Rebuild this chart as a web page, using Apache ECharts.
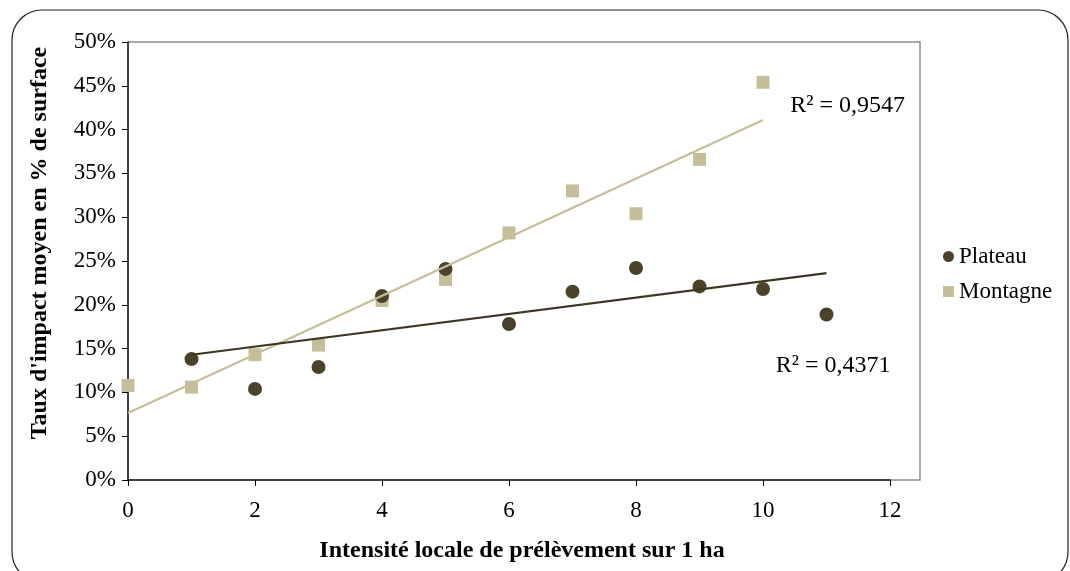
<!DOCTYPE html>
<html>
<head>
<meta charset="utf-8">
<style>
  html, body { margin: 0; padding: 0; background: #fff; }
  #chart { width: 1070px; height: 571px; }
</style>
<script src="https://cdn.jsdelivr.net/npm/echarts@6/dist/echarts.min.js"></script>
</head>
<body>
<div id="chart"></div>
<script>
// Intensité locale de prélèvement (arbres / ha) et taux d'impact moyen (% de surface)
const plateauX = [1, 2, 3, 4, 5, 6, 7, 8, 9, 10, 11];
const plateauY = [13.8, 10.4, 12.9, 21.0, 24.1, 17.8, 21.5, 24.2, 22.1, 21.8, 18.9];
const montagneX = [0, 1, 2, 3, 4, 5, 6, 7, 8, 9, 10];
const montagneY = [10.8, 10.6, 14.3, 15.4, 20.5, 22.9, 28.2, 33.0, 30.4, 36.6, 45.4];
const xTicks = [0, 2, 4, 6, 8, 10, 12];
const yTicks = [0, 5, 10, 15, 20, 25, 30, 35, 40, 45, 50];
const r2Plateau = '0,4371';
const r2Montagne = '0,9547';

const FONT = '"Liberation Serif", "Times New Roman", serif';
const DARK = '#4b4329';
const LIGHT = '#c6be98';

// least-squares line over the extent of a series
function trend(xs, ys) {
  const n = xs.length;
  const mx = xs.reduce((a, b) => a + b, 0) / n;
  const my = ys.reduce((a, b) => a + b, 0) / n;
  let sxy = 0, sxx = 0;
  for (let i = 0; i < n; i++) {
    sxy += (xs[i] - mx) * (ys[i] - my);
    sxx += (xs[i] - mx) * (xs[i] - mx);
  }
  const b = sxy / sxx, a = my - b * mx;
  const x0 = Math.min(...xs), x1 = Math.max(...xs);
  return [[x0, a + b * x0], [x1, a + b * x1]];
}
const pairs = (xs, ys) => xs.map((x, i) => [x, ys[i]]);

const chart = echarts.init(document.getElementById('chart'), null, { renderer: 'canvas' });

chart.setOption({
  backgroundColor: '#fff',
  animation: false,
  grid: { left: 128, right: 180, top: 42, bottom: 91, containLabel: false },
  xAxis: {
    type: 'value', min: xTicks[0], max: xTicks[xTicks.length - 1], interval: 2,
    axisLine: { show: true, onZero: false, lineStyle: { color: '#000', width: 1.5 } },
    axisTick: { show: true, inside: false, length: 6, lineStyle: { color: '#000' } },
    axisLabel: { margin: 19, fontFamily: FONT, fontSize: 23, color: '#000' },
    splitLine: { show: false }
  },
  yAxis: {
    type: 'value', min: yTicks[0], max: yTicks[yTicks.length - 1], interval: 5,
    axisLine: { show: true, onZero: false, lineStyle: { color: '#000', width: 1.5 } },
    axisTick: { show: true, inside: false, length: 6, lineStyle: { color: '#000' } },
    axisLabel: { margin: 12, fontFamily: FONT, fontSize: 23, color: '#000', formatter: '{value}%' },
    splitLine: { show: false }
  },
  legend: {
    data: [
      { name: 'Plateau', icon: 'circle' },
      { name: 'Montagne', icon: 'rect' }
    ],
    orient: 'vertical', left: 938, top: 240,
    itemWidth: 11, itemHeight: 11, itemGap: 12,
    textStyle: { fontFamily: FONT, fontSize: 23, color: '#000' }
  },
  graphic: [
    { type: 'rect', silent: true, z: -1,
      shape: { x: 12, y: 10, width: 1056, height: 572, r: 30 },
      style: { fill: 'none', stroke: '#222', lineWidth: 1.2 } },
    { type: 'polyline', silent: true, z: 0,
      shape: { points: [[128, 42], [920, 42], [920, 480], [890, 480]] },
      style: { fill: 'none', stroke: '#8c8c8c', lineWidth: 1.5 } },
    { type: 'text', silent: true, x: 40, y: 243, rotation: Math.PI / 2,
      style: { text: "Taux d'impact moyen en % de surface", fontFamily: FONT, fontSize: 24,
               fontWeight: 'bold', fill: '#000', align: 'center', verticalAlign: 'middle' } },
    { type: 'text', silent: true, x: 522, y: 551,
      style: { text: 'Intensité locale de prélèvement sur 1 ha', fontFamily: FONT, fontSize: 24,
               fontWeight: 'bold', fill: '#000', align: 'center', verticalAlign: 'middle' } }
  ],
  series: [
    {
      name: 'Montagne', type: 'scatter', symbol: 'rect', symbolSize: 13, z: 3,
      itemStyle: { color: LIGHT, opacity: 1 },
      data: pairs(montagneX, montagneY)
    },
    {
      name: 'Plateau', type: 'scatter', symbol: 'circle', symbolSize: 14, z: 4,
      itemStyle: { color: DARK, opacity: 1 },
      data: pairs(plateauX, plateauY)
    },
    {
      name: 'tendance-montagne', type: 'line', symbol: 'none', z: 5,
      lineStyle: { color: LIGHT, width: 2.2 },
      data: trend(montagneX, montagneY)
    },
    {
      name: 'tendance-plateau', type: 'line', symbol: 'none', z: 5,
      lineStyle: { color: '#3d3720', width: 2.2 },
      data: trend(plateauX, plateauY)
    },
    {
      name: 'r2', type: 'scatter', symbolSize: 0, z: 6, silent: true,
      itemStyle: { opacity: 1 },
      label: { show: true, position: 'right', distance: 0, fontFamily: FONT, fontSize: 24,
               color: '#000', opacity: 1, formatter: p => p.data.text },
      data: [
        { value: [10.43, 42.7], text: 'R² = ' + r2Montagne },
        { value: [10.2, 13.0], text: 'R² = ' + r2Plateau }
      ]
    }
  ]
});
</script>
</body>
</html>
